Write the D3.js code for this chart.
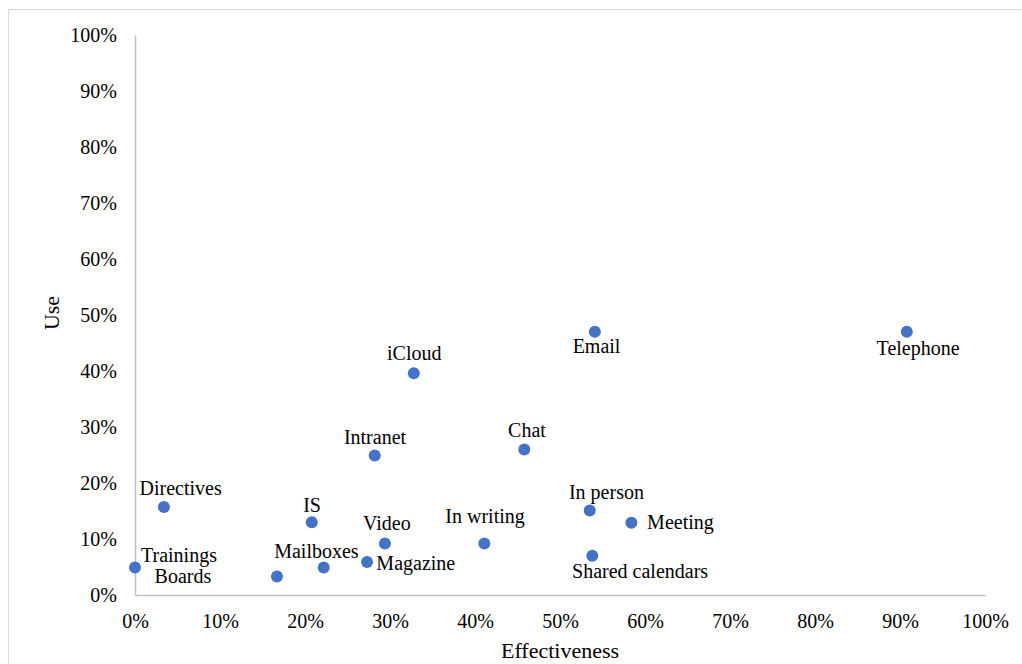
<!DOCTYPE html>
<html>
<head>
<meta charset="utf-8">
<script src="https://cdn.jsdelivr.net/npm/d3@7/dist/d3.min.js"></script>
<style>
  html, body { margin: 0; padding: 0; background: #fff; }
  svg { display: block; }
  svg text { font-family: "Liberation Serif", "Times New Roman", Times, "DejaVu Serif", serif; }
</style>
</head>
<body>
<svg id="chart" width="1022" height="664"></svg>
<script>
// Communication channels: effectiveness vs. use (percent)
const channels = ["Trainings", "Boards", "Mailboxes", "Magazine", "Video", "IS", "Directives", "Intranet",
                  "iCloud", "Chat", "In writing", "Email", "In person", "Meeting", "Shared calendars", "Telephone"];
const effectiveness = [0, 16.7, 22.2, 27.3, 29.4, 20.8, 3.4, 28.2, 32.8, 45.8, 41.1, 54.1, 53.5, 58.4, 53.8, 90.8];
const use = [4.9, 3.3, 4.9, 5.9, 9.2, 13.0, 15.7, 24.9, 39.6, 26.0, 9.2, 47.0, 15.1, 12.9, 7.0, 47.0];
const tickValues = [0, 10, 20, 30, 40, 50, 60, 70, 80, 90, 100];

// Label placement relative to each point: [anchor, dx, dy(baseline)]
const labelPlacement = {
  "Trainings": ["start", 6, -6],
  "Boards": ["middle", -94, 6.6],
  "Mailboxes": ["middle", -7.3, -9.4],
  "Magazine": ["start", 9.3, 8.3],
  "Video": ["middle", 2, -13.3],
  "IS": ["middle", 0.3, -10.6],
  "Directives": ["middle", 16.7, -12.3],
  "Intranet": ["middle", 0.3, -11.4],
  "iCloud": ["middle", 0.5, -13.3],
  "Chat": ["middle", 2.7, -12.6],
  "In writing": ["middle", 0.7, -20],
  "Email": ["middle", 1.7, 20.7],
  "In person": ["middle", 16.7, -11.4],
  "Meeting": ["start", 15.7, 6.6],
  "Shared calendars": ["middle", 47.8, 22.3],
  "Telephone": ["middle", 11.3, 23]
};

const FONT = "'Liberation Serif', 'Times New Roman', Times, 'DejaVu Serif', serif";
const points = channels.map((name, i) => ({ name, x: effectiveness[i], y: use[i] }));

const svg = d3.select("#chart");
const margin = { left: 135, right: 37, top: 35, bottom: 69 };
const W = 1022, H = 664;

// outer chart-area frame
svg.append("rect")
  .attr("x", 8.5).attr("y", 9.5)
  .attr("width", W).attr("height", H)
  .attr("fill", "#fff")
  .attr("stroke", "#d9d9d9").attr("stroke-width", 1);

const x = d3.scaleLinear().domain([0, 100]).range([margin.left, W - margin.right]);
const y = d3.scaleLinear().domain([0, 100]).range([H - margin.bottom, margin.top]);

const fmt = d => d + "%";

const xAxis = svg.append("g")
  .attr("transform", `translate(0,${y(0)})`)
  .call(d3.axisBottom(x).tickValues(tickValues).tickFormat(fmt).tickSize(0).tickPadding(19));
const yAxis = svg.append("g")
  .attr("transform", `translate(${x(0)},0)`)
  .call(d3.axisLeft(y).tickValues(tickValues).tickFormat(fmt).tickSize(0).tickPadding(18));

[xAxis, yAxis].forEach(g => {
  g.attr("font-family", FONT).attr("font-size", 20);
  g.select(".domain").attr("stroke", "#bfbfbf").attr("stroke-width", 1.5);
  g.selectAll("text")
    .attr("font-family", FONT)
    .attr("font-size", 20)
    .attr("fill", "#000");
});
xAxis.selectAll("text").attr("dy", "0.71em");
yAxis.selectAll("text").attr("dy", "0.33em");

// axis titles
svg.append("text")
  .attr("x", 560).attr("y", 658)
  .attr("text-anchor", "middle")
  .attr("font-family", FONT)
  .attr("font-size", 22)
  .attr("fill", "#000")
  .text("Effectiveness");
svg.append("text")
  .attr("transform", "translate(59,313) rotate(-90)")
  .attr("text-anchor", "middle")
  .attr("font-family", FONT)
  .attr("font-size", 22)
  .attr("fill", "#000")
  .text("Use");

// points
svg.append("g").selectAll("circle")
  .data(points).join("circle")
  .attr("cx", d => x(d.x))
  .attr("cy", d => y(d.y))
  .attr("r", 6)
  .attr("fill", "#4472c4");

// labels
svg.append("g").selectAll("text")
  .data(points).join("text")
  .attr("x", d => x(d.x) + labelPlacement[d.name][1])
  .attr("y", d => y(d.y) + labelPlacement[d.name][2])
  .attr("text-anchor", d => labelPlacement[d.name][0])
  .attr("font-family", FONT)
  .attr("font-size", 20)
  .attr("fill", "#000")
  .text(d => d.name);
</script>
</body>
</html>
